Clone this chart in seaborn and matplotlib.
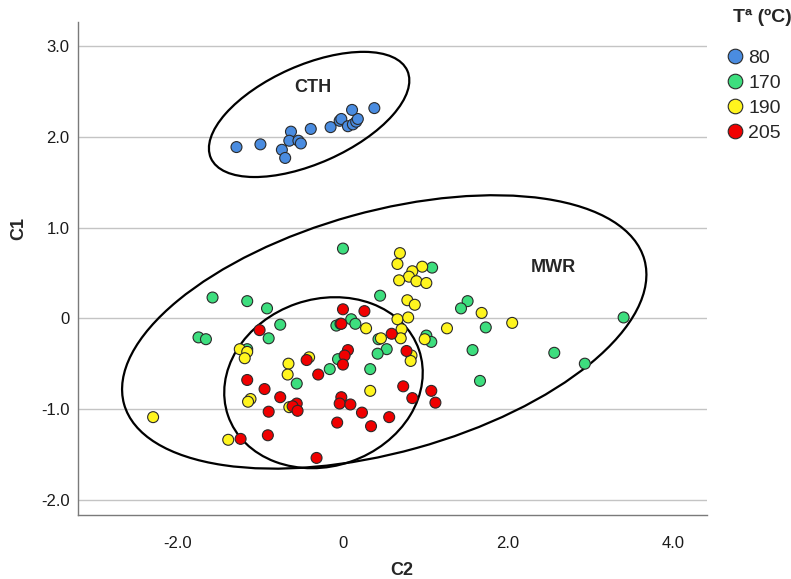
import numpy as np
import pandas as pd
import matplotlib
matplotlib.use("Agg")
import matplotlib.pyplot as plt
import seaborn as sns
from matplotlib.patches import Ellipse
from matplotlib.transforms import Affine2D, ScaledTranslation

# Discriminant scores (C2 horizontal, C1 vertical) by treatment temperature
temp_levels = ["80", "170", "190", "205"]

c2_80 = [-1.29, -1.00, -0.74, -0.70, -0.63, -0.65, -0.54, -0.51, -0.39,
         -0.15, -0.04, -0.02, 0.06, 0.12, 0.16, 0.18, 0.11, 0.38]
c1_80 = [1.89, 1.92, 1.86, 1.77, 2.06, 1.96, 1.96, 1.93, 2.09,
         2.11, 2.18, 2.20, 2.12, 2.14, 2.17, 2.20, 2.30, 2.32]

c2_170 = [-1.58, -1.16, -0.92, -0.76, -1.75, -1.66, -0.90, -1.16, -0.56,
          0.00, 1.08, 0.45, 1.51, 1.43, 1.73, 0.10, 0.15, -0.08, -0.03,
          0.69, 1.01, 1.07, 0.43, 0.53, 0.42, 1.57, -0.06, -0.16, 0.33,
          1.66, 3.40, 2.56, 2.93]
c1_170 = [0.23, 0.19, 0.11, -0.07, -0.21, -0.23, -0.22, -0.34, -0.72,
          0.77, 0.56, 0.25, 0.19, 0.11, -0.10, -0.01, -0.06, -0.08, -0.06,
          -0.20, -0.19, -0.26, -0.23, -0.34, -0.39, -0.35, -0.45, -0.56, -0.56,
          -0.69, 0.01, -0.38, -0.50]

c2_190 = [-1.25, -1.16, -1.19, -0.41, -0.66, -0.67, -1.12, -1.15, -0.65,
          -2.30, -1.39, 0.69, 0.66, 0.96, 0.84, 0.80, 0.68, 0.89, 1.01,
          0.78, 0.87, 1.68, 0.66, 0.79, 0.28, 0.71, 1.26, 0.46, 0.70,
          0.99, 0.83, 0.82, 0.33, 2.05]
c1_190 = [-0.34, -0.37, -0.44, -0.43, -0.50, -0.62, -0.89, -0.92, -0.98,
          -1.09, -1.34, 0.72, 0.60, 0.57, 0.52, 0.46, 0.42, 0.41, 0.39,
          0.20, 0.15, 0.06, -0.01, 0.01, -0.11, -0.12, -0.11, -0.22, -0.22,
          -0.23, -0.41, -0.47, -0.80, -0.05]

c2_205 = [-1.01, -0.44, -0.30, -1.16, -0.95, -0.76, -0.56, -0.61, -0.55,
          -0.90, -0.91, -1.24, -0.32, 0.00, 0.26, -0.02, 0.59, 0.06, 0.02,
          0.00, 0.77, 0.73, 1.07, 0.84, 1.12, -0.02, -0.04, 0.09, 0.23,
          0.56, -0.07, 0.34]
c1_205 = [-0.13, -0.46, -0.62, -0.68, -0.78, -0.87, -0.94, -0.97, -1.02,
          -1.03, -1.29, -1.33, -1.54, 0.10, 0.08, -0.06, -0.17, -0.35, -0.41,
          -0.51, -0.36, -0.75, -0.80, -0.88, -0.93, -0.87, -0.94, -0.95, -1.04,
          -1.09, -1.15, -1.19]

x_ticks = [-2.0, 0.0, 2.0, 4.0]
x_tick_labels = ["-2.0", "0", "2.0", "4.0"]
y_ticks = [-2.0, -1.0, 0.0, 1.0, 2.0, 3.0]
y_tick_labels = ["-2.0", "-1.0", "0", "1.0", "2.0", "3.0"]

palette = {"80": "#4A8CE0", "170": "#3DDE7E", "190": "#FFF51E", "205": "#F00000"}

frames = []
for lvl, xs, ys in [("80", c2_80, c1_80), ("170", c2_170, c1_170),
                    ("190", c2_190, c1_190), ("205", c2_205, c1_205)]:
    frames.append(pd.DataFrame({"C2": xs, "C1": ys, "T": lvl}))
df = pd.concat(frames, ignore_index=True)

sns.set_theme(style="white")
plt.rcParams["font.family"] = ["Liberation Sans", "DejaVu Sans"]

fig = plt.figure(figsize=(7.91, 5.79), dpi=100)
ax = fig.add_axes([0.0986, 0.1105, 0.7952, 0.8515])

ax.set_xlim(-3.21, 4.41)
ax.set_ylim(-2.17, 3.27)

# horizontal reference lines
for yv in y_ticks:
    ax.axhline(yv, color="#c4c4c4", lw=1.0, zorder=0)

sns.scatterplot(data=df, x="C2", y="C1", hue="T", hue_order=temp_levels,
                palette=palette, s=62, edgecolor="#2a2a2a", linewidth=0.8,
                ax=ax, zorder=3)

# group ellipses: centre in data units, size (points) and tilt in screen space
groups = [
    ((-0.41, 2.25), 154.8, 70.6, 24.0),
    ((0.50, -0.15), 388.8, 173.5, 15.5),
    ((-0.236, -0.71), 145.4, 120.2, 19.0),
]
for (cx, cy), w, h, ang in groups:
    tr = Affine2D().scale(fig.dpi / 72.0) + ScaledTranslation(cx, cy, ax.transData)
    ax.add_patch(Ellipse((0, 0), w, h, angle=ang, fill=False, edgecolor="black",
                         lw=1.6, transform=tr, zorder=2))

ax.text(-0.36, 2.55, "CTH", fontsize=13, fontweight="bold", ha="center", va="center")
ax.text(2.55, 0.56, "MWR", fontsize=13, fontweight="bold", ha="center", va="center")

ax.set_xticks(x_ticks)
ax.set_xticklabels(x_tick_labels)
ax.set_yticks(y_ticks)
ax.set_yticklabels(y_tick_labels)
ax.tick_params(axis="both", length=0, labelsize=12, colors="#1a1a1a")
ax.tick_params(axis="x", pad=15)
ax.tick_params(axis="y", pad=6)

ax.set_xlabel("C2", fontsize=13, fontweight="bold")
ax.set_ylabel("C1", fontsize=13, fontweight="bold")
ax.xaxis.set_label_coords(0.515, -0.095)
ax.yaxis.set_label_coords(-0.08, 0.582)

for side in ["top", "right"]:
    ax.spines[side].set_visible(False)
for side in ["left", "bottom"]:
    ax.spines[side].set_color("#7a7a7a")
    ax.spines[side].set_linewidth(1.0)

# legend: title set separately above the entries
handles, labels = ax.get_legend_handles_labels()
ax.get_legend().remove()
for hnd in handles:
    hnd.set_markersize(10.5)
    hnd.set_markeredgecolor("#2a2a2a")
    hnd.set_markeredgewidth(0.8)
fig.legend(handles, labels, loc="upper left", bbox_to_anchor=(0.914, 0.915),
           frameon=False, fontsize=14, handletextpad=0.1, labelspacing=0.38,
           borderpad=0, borderaxespad=0, handlelength=1.2)
fig.text(0.9267, 0.969, "Tª (ºC)", fontsize=14, fontweight="bold",
         ha="left", va="center")

fig.savefig("out.png", dpi=100)
